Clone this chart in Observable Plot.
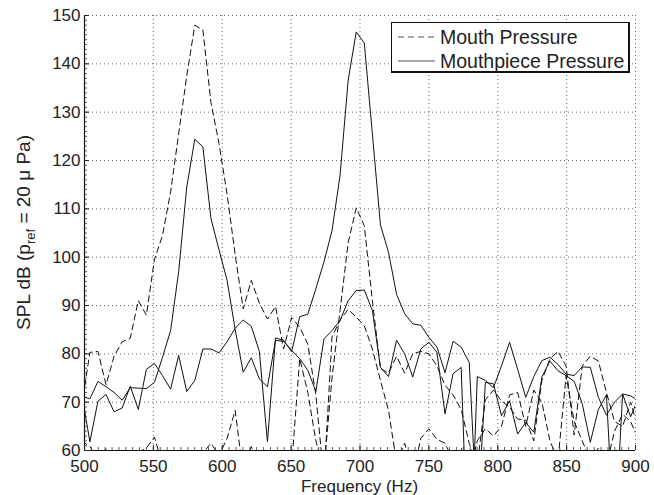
<!DOCTYPE html>
<html>
<head>
<meta charset="utf-8">
<script src="https://cdn.jsdelivr.net/npm/d3@7"></script>
<script src="https://cdn.jsdelivr.net/npm/@observablehq/plot@0.6"></script>
<style>
  html, body { margin: 0; padding: 0; background: #fff; }
  #wrap { position: relative; width: 654px; height: 495px; font-family: "Liberation Sans", Arial, Helvetica, sans-serif; color: #222; }
  #legend { position: absolute; left: 391px; top: 22px; width: 236px; height: 48px; border: 1px solid #111; border-right-width: 2px; border-bottom-width: 2px; background: #fff; font-size: 19.5px; }
  .row { position: absolute; left: 0; display: flex; align-items: center; height: 24px; }
  .row svg { margin-left: 6px; margin-right: 5px; }
</style>
</head>
<body>
<div id="wrap">
  <div id="chart"></div>
  <div id="legend">
    <div class="row" style="top:2px"><svg width="37" height="4"><line x1="0" y1="2" x2="37" y2="2" stroke="#555" stroke-width="1.2" stroke-dasharray="6,4"/></svg><span>Mouth Pressure</span></div>
    <div class="row" style="top:26px"><svg width="37" height="4"><line x1="0" y1="2" x2="37" y2="2" stroke="#555" stroke-width="1.2"/></svg><span>Mouthpiece Pressure</span></div>
  </div>
</div>
<script>
// Frequency bins (Hz)
const freqs = [498.05, 503.91, 509.77, 515.63, 521.48, 527.34, 533.20, 539.06, 544.92, 550.78,
  556.64, 562.50, 568.36, 574.22, 580.08, 585.94, 591.80, 597.66, 603.52, 609.38,
  615.23, 621.09, 626.95, 632.81, 638.67, 644.53, 650.39, 656.25, 662.11, 667.97,
  673.83, 679.69, 685.55, 691.41, 697.27, 703.13, 708.98, 714.84, 720.70, 726.56,
  732.42, 738.28, 744.14, 750.00, 755.86, 761.72, 767.58, 773.44, 779.30, 785.16,
  791.02, 796.88, 802.73, 808.59, 814.45, 820.31, 826.17, 832.03, 837.89, 843.75,
  849.61, 855.47, 861.33, 867.19, 873.05, 878.91, 884.77, 890.63, 896.48, 902.34];

// Mouth pressure, note 1 (peak near 580 Hz)
const mouth1 = [69.3, 80.3, 80.5, 73.6, 79.5, 82.5, 83.2, 91.0, 88.0, 99.5,
  104.5, 113.5, 125.5, 137.5, 148.0, 147.0, 132.0, 123.5, 113.0, 100.5,
  89.3, 95.2, 90.5, 87.2, 89.8, 81.0, 87.5, 85.5, 82.0, 71.5,
  54.0, 83.5, 87.0, 89.2, 87.6, 85.8, 81.0, 74.5, 68.3, 57.5,
  61.5, 55.0, 62.5, 64.5, 62.3, 61.5, 58.0, 60.5, 55.0, 62.0,
  64.5, 63.0, 65.0, 71.5, 72.0, 65.0, 72.5, 70.0, 62.0, 58.0,
  75.5, 66.0, 62.0, 58.0, 60.5, 57.0, 64.0, 67.5, 66.0, 62.0];

// Mouth pressure, note 2 (peak near 700 Hz)
const mouth2 = [62.0, 60.8, 58.5, 60.4, 59.0, 57.0, 58.0, 59.6, 60.5, 62.8,
  57.0, 55.0, 55.0, 56.0, 58.0, 59.5, 61.5, 59.0, 62.5, 68.3,
  55.0, 60.8, 57.0, 55.0, 58.0, 57.0, 57.0, 79.0, 72.0, 62.0,
  56.0, 75.0, 89.0, 103.0, 110.2, 106.5, 91.0, 77.0, 76.0, 79.5,
  76.0, 80.0, 80.5, 80.0, 77.5, 73.5, 71.5, 68.5, 61.5, 57.0,
  70.5, 72.5, 70.2, 69.0, 66.5, 66.3, 62.0, 74.5, 79.0, 80.5,
  77.5, 63.2, 77.5, 79.5, 78.5, 72.0, 66.0, 65.0, 70.0, 64.0];

// Mouthpiece pressure, note 1 (peak near 580 Hz)
const piece1 = [71.2, 70.7, 74.3, 73.2, 72.0, 70.4, 73.0, 72.9, 72.8, 74.1,
  79.3, 84.8, 97.0, 114.5, 124.4, 122.8, 108.0, 101.5, 95.2, 85.0,
  76.2, 79.2, 74.8, 73.2, 82.8, 82.6, 80.7, 79.0, 76.6, 72.2,
  83.1, 84.8, 86.9, 91.0, 93.1, 93.2, 89.0, 77.2, 75.3, 82.8,
  80.0, 75.2, 81.0, 82.4, 80.3, 67.6, 75.9, 77.2, 30.0, 75.3,
  74.5, 73.0, 77.5, 82.4, 76.8, 71.0, 75.3, 78.6, 79.3, 77.8,
  75.8, 75.5, 77.3, 77.2, 71.0, 67.3, 70.0, 71.7, 67.0, 71.0];

// Mouthpiece pressure, note 2 (peak near 700 Hz)
const piece2 = [71.7, 61.8, 70.2, 71.6, 68.0, 68.8, 73.3, 68.5, 76.8, 78.0,
  75.5, 72.7, 79.7, 72.2, 74.5, 81.0, 81.0, 80.2, 82.5, 85.3,
  87.0, 85.7, 80.5, 61.8, 83.3, 82.8, 80.5, 87.7, 88.2, 93.5,
  99.0, 105.5, 117.0, 136.6, 146.6, 144.3, 125.5, 106.7, 101.0, 92.3,
  88.3, 86.2, 85.9, 83.4, 81.4, 76.1, 82.6, 81.4, 78.2, 45.0,
  74.1, 73.8, 67.2, 70.3, 63.4, 65.8, 63.8, 75.2, 78.5, 76.5,
  75.5, 74.3, 69.7, 61.7, 68.5, 71.5, 40.0, 71.7, 71.3, 70.3];

const xTicks = [500, 550, 600, 650, 700, 750, 800, 850, 900];
const yTicks = [60, 70, 80, 90, 100, 110, 120, 130, 140, 150];
const xMinor = d3.range(500, 901, 5);
const yMinor = d3.range(60, 151, 1);

const mouthRows = [];
const pieceRows = [];
freqs.forEach((f, i) => {
  mouthRows.push({f, v: mouth1[i], s: "m1"}, {f, v: mouth2[i], s: "m2"});
  pieceRows.push({f, v: piece1[i], s: "p1"}, {f, v: piece2[i], s: "p2"});
});

const W = 654, H = 495, mL = 84, mR = 19, mT = 15, mB = 45;
const pxPerHz = (W - mL - mR) / 400;
const pxPerDb = (H - mT - mB) / 90;

const chart = Plot.plot({
  width: W, height: H,
  marginLeft: mL, marginRight: mR, marginTop: mT, marginBottom: mB,
  style: {fontFamily: '"Liberation Sans", Arial, Helvetica, sans-serif', fontSize: "17px", color: "#222", background: "#fff"},
  x: {domain: [500, 900]},
  y: {domain: [60, 150]},
  marks: [
    Plot.gridX(xTicks, {stroke: "#666", strokeOpacity: 1, strokeWidth: 1, strokeDasharray: "1,3"}),
    Plot.gridY(yTicks, {stroke: "#666", strokeOpacity: 1, strokeWidth: 1, strokeDasharray: "1,3"}),
    Plot.line(mouthRows, {x: "f", y: "v", z: "s", stroke: "#111", strokeWidth: 1, strokeDasharray: "6,4", clip: true}),
    Plot.line(pieceRows, {x: "f", y: "v", z: "s", stroke: "#111", strokeWidth: 1, clip: true}),
    Plot.ruleX([500], {stroke: "#111", strokeWidth: 1.2}),
    Plot.ruleY([60], {stroke: "#111", strokeWidth: 1.2}),
    Plot.ruleX(xMinor, {x: d => d, y1: 60, y2: 60 + 3 / pxPerDb, stroke: "#333", strokeWidth: 0.8}),
    Plot.ruleY(yMinor, {y: d => d, x1: 500, x2: 500 + 3 / pxPerHz, stroke: "#333", strokeWidth: 0.8}),
    Plot.ruleX(xTicks, {x: d => d, y1: 60, y2: 60 + 5 / pxPerDb, stroke: "#222", strokeWidth: 1}),
    Plot.ruleY(yTicks, {y: d => d, x1: 500, x2: 500 + 5 / pxPerHz, stroke: "#222", strokeWidth: 1}),
    Plot.axisX(xTicks, {tickSize: 0, tickPadding: 9, label: null, fontSize: 17}),
    Plot.axisY(yTicks, {tickSize: 0, tickPadding: 4, label: null, fontSize: 17})
  ]
});

document.getElementById("chart").appendChild(chart);

const svg = d3.select(chart);
svg.append("text")
  .attr("x", mL + (W - mL - mR) / 2)
  .attr("y", 491.5)
  .attr("text-anchor", "middle")
  .attr("fill", "#222")
  .style("font-size", "17px")
  .text("Frequency (Hz)");

const yl = svg.append("text")
  .attr("transform", `translate(30,${mT + (H - mT - mB) / 2}) rotate(-90)`)
  .attr("text-anchor", "middle")
  .attr("fill", "#222")
  .style("font-size", "19px");
yl.append("tspan").text("SPL dB (p");
yl.append("tspan").attr("dy", 5).style("font-size", "13px").text("ref");
yl.append("tspan").attr("dy", -5).text(" = 20 \u03BC Pa)");
</script>
</body>
</html>
